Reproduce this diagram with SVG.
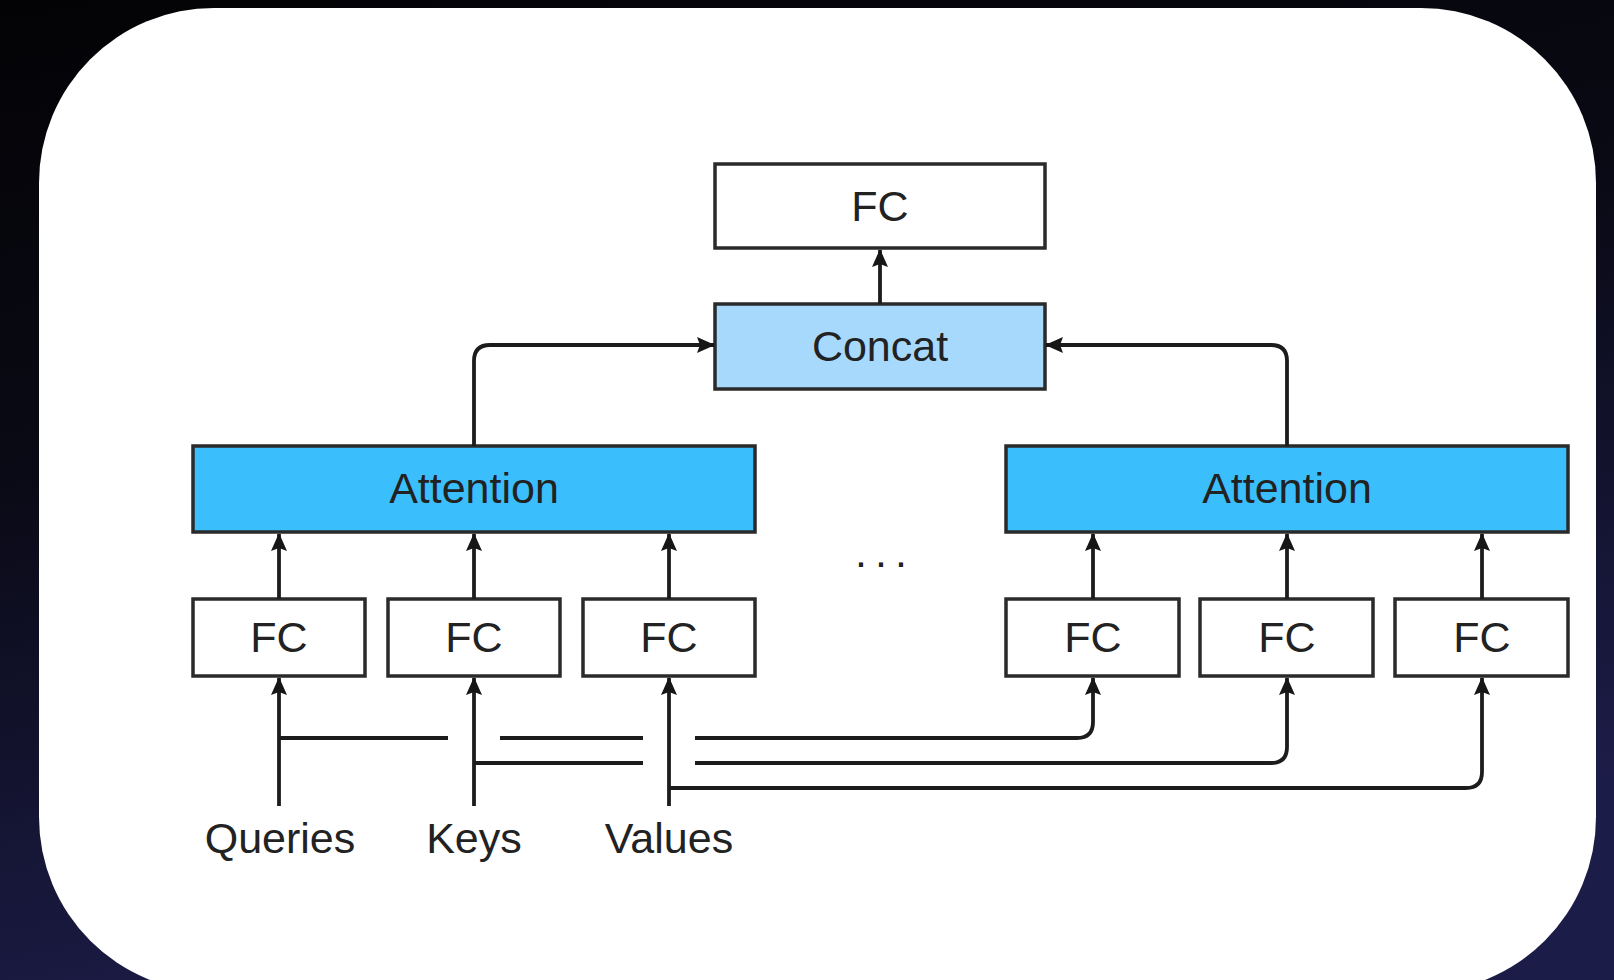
<svg xmlns="http://www.w3.org/2000/svg" width="1614" height="980" viewBox="0 0 1614 980">
  <defs>
    <linearGradient id="bg" x1="0" y1="0" x2="0.3" y2="1">
      <stop offset="0" stop-color="#030305"/>
      <stop offset="0.45" stop-color="#0a0a16"/>
      <stop offset="1" stop-color="#1c1c48"/>
    </linearGradient>
    <marker id="arr" viewBox="0 0 18 16" refX="17" refY="8" markerWidth="18" markerHeight="16" markerUnits="userSpaceOnUse" orient="auto">
      <path d="M0,0 L18,8 L0,16 L3,8 Z" fill="#161616"/>
    </marker>
    <style>
      .box { stroke: #2a2a2a; stroke-width: 3.5; }
      .white { fill: #ffffff; }
      .att { fill: #3bbffc; }
      .cat { fill: #a7d9fd; }
      .lbl { font-family: "Liberation Sans", Arial, sans-serif; font-size: 43px; fill: #222222; text-anchor: middle; }
      .con { fill: none; stroke: #1c1c1c; stroke-width: 3.8; stroke-linejoin: round; }
      .arrow { marker-end: url(#arr); }
    </style>
  </defs>

  <rect x="0" y="0" width="1614" height="980" fill="url(#bg)"/>
  <rect x="39" y="8" width="1557" height="984" rx="175" ry="175" fill="#ffffff"/>

  <g id="fc-top">
    <rect class="box white" x="715" y="164" width="330" height="84"/>
    <text class="lbl" x="880" y="221">FC</text>
  </g>
  <g id="concat">
    <rect class="box cat" x="715" y="304" width="330" height="85"/>
    <text class="lbl" x="880" y="361">Concat</text>
  </g>
  <g id="attention-1">
    <rect class="box att" x="193" y="446" width="562" height="86"/>
    <text class="lbl" x="474" y="503">Attention</text>
  </g>
  <g id="attention-h">
    <rect class="box att" x="1006" y="446" width="562" height="86"/>
    <text class="lbl" x="1287" y="503">Attention</text>
  </g>
  <g id="fc-q1">
    <rect class="box white" x="193" y="599" width="172" height="77"/>
    <text class="lbl" x="279" y="652">FC</text>
  </g>
  <g id="fc-k1">
    <rect class="box white" x="388" y="599" width="172" height="77"/>
    <text class="lbl" x="474" y="652">FC</text>
  </g>
  <g id="fc-v1">
    <rect class="box white" x="583" y="599" width="172" height="77"/>
    <text class="lbl" x="669" y="652">FC</text>
  </g>
  <g id="fc-qh">
    <rect class="box white" x="1006" y="599" width="173" height="77"/>
    <text class="lbl" x="1093" y="652">FC</text>
  </g>
  <g id="fc-kh">
    <rect class="box white" x="1200" y="599" width="173" height="77"/>
    <text class="lbl" x="1287" y="652">FC</text>
  </g>
  <g id="fc-vh">
    <rect class="box white" x="1395" y="599" width="173" height="77"/>
    <text class="lbl" x="1482" y="652">FC</text>
  </g>
  <g id="ellipsis">
    <text x="855 875 895" y="567" style="font-family: 'Liberation Sans', Arial, sans-serif; font-size: 43px; fill: #222222;">...</text>
  </g>
  <g id="inputs">
    <text class="lbl" x="280" y="853">Queries</text>
    <text class="lbl" x="474" y="853">Keys</text>
    <text class="lbl" x="669" y="853">Values</text>
  </g>

  <g id="connectors">
    <path class="con arrow" d="M880,304 L880,250"/>
    <path class="con arrow" d="M474,446 L474,361 Q474,345 490,345 L714,345"/>
    <path class="con arrow" d="M1287,446 L1287,361 Q1287,345 1271,345 L1046,345"/>

    <path class="con arrow" d="M279,599 L279,534"/>
    <path class="con arrow" d="M474,599 L474,534"/>
    <path class="con arrow" d="M669,599 L669,534"/>
    <path class="con arrow" d="M1093,599 L1093,534"/>
    <path class="con arrow" d="M1287,599 L1287,534"/>
    <path class="con arrow" d="M1482,599 L1482,534"/>

    <path class="con arrow" d="M279,806 L279,678"/>
    <path class="con arrow" d="M474,806 L474,678"/>
    <path class="con arrow" d="M669,806 L669,678"/>

    <path class="con" d="M279,738 L448,738"/>
    <path class="con" d="M500,738 L643,738"/>
    <path class="con arrow" d="M695,738 L1077,738 Q1093,738 1093,722 L1093,678"/>

    <path class="con" d="M474,763 L643,763"/>
    <path class="con arrow" d="M695,763 L1271,763 Q1287,763 1287,747 L1287,678"/>

    <path class="con arrow" d="M669,788 L1466,788 Q1482,788 1482,772 L1482,678"/>
  </g>
</svg>
